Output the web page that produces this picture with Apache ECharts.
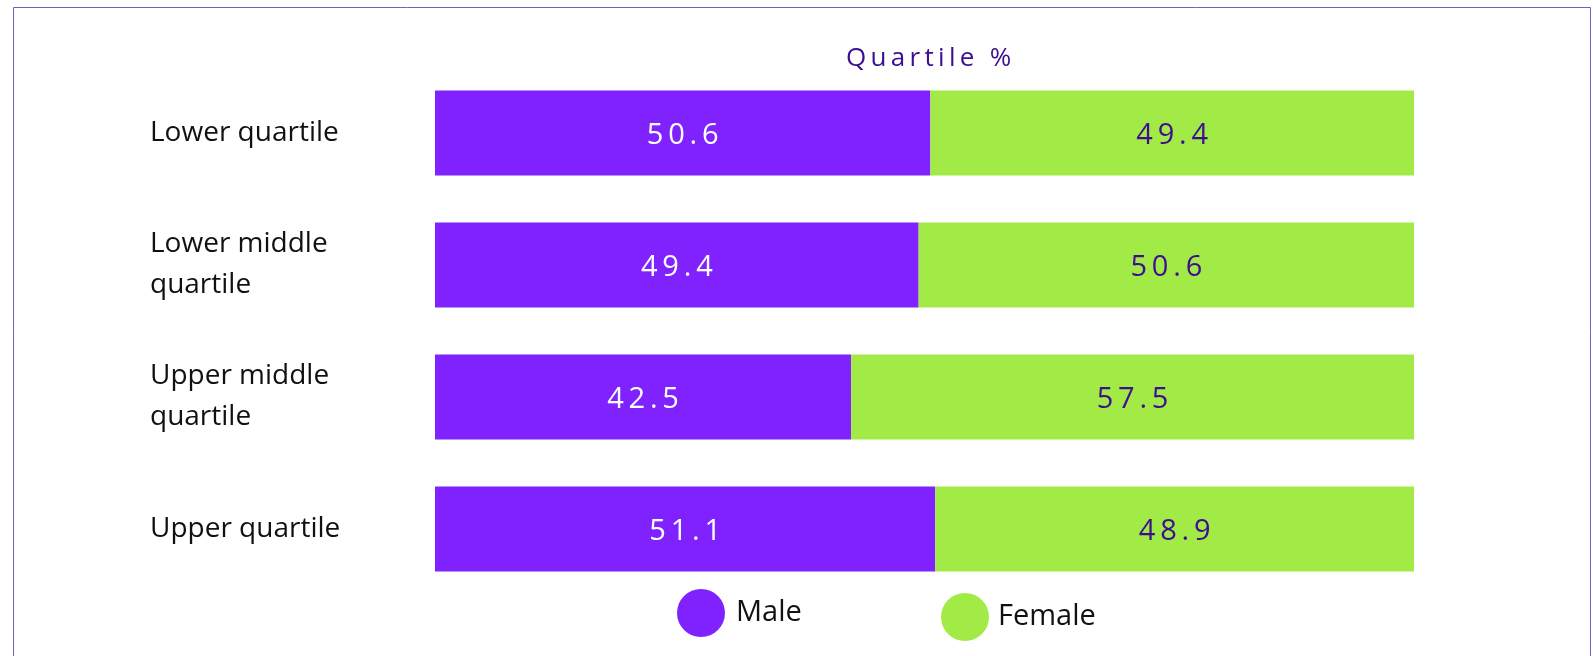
<!DOCTYPE html>
<html>
<head>
<meta charset="utf-8">
<script src="https://cdn.jsdelivr.net/npm/echarts@6/dist/echarts.min.js"></script>
<style>
html,body{margin:0;padding:0;background:#fff;}
#chart{width:1593px;height:656px;}
</style>
</head>
<body>
<div id="chart"></div>
<script>
const categories = ['Lower quartile', 'Lower middle\nquartile', 'Upper middle\nquartile', 'Upper quartile'];
const maleValues = [50.6, 49.4, 42.5, 51.1];
const femaleValues = [49.4, 50.6, 57.5, 48.9];
const seriesNames = ['Male', 'Female'];
const titleText = 'Quartile %';

const spaced = s => String(s).split('').join('\u2009');
const chart = echarts.init(document.getElementById('chart'));
const FONT = '"Open Sans", Lato, sans-serif';

chart.setOption({
  animation: false,
  backgroundColor: '#ffffff',
  title: {
    text: spaced(titleText),
    left: 846,
    top: 46,
    padding: 0,
    textStyle: { color: '#3d0f8f', fontSize: 26, fontWeight: 'normal', fontFamily: FONT }
  },
  graphic: [{
    type: 'rect',
    shape: { x: 13.5, y: 7.5, width: 1577, height: 700 },
    style: { fill: 'none', stroke: '#7a5cc0', lineWidth: 1 },
    silent: true
  }],
  legend: [{
    data: [seriesNames[0]],
    left: 677, top: 589, padding: 0,
    icon: 'circle', itemWidth: 48, itemHeight: 48,
    textStyle: { color: '#111', fontSize: 29, fontFamily: FONT, padding: [0, 0, 0, 6] }
  }, {
    data: [seriesNames[1]],
    left: 941, top: 593, padding: 0,
    icon: 'circle', itemWidth: 48, itemHeight: 48,
    textStyle: { color: '#111', fontSize: 29, fontFamily: FONT, padding: [0, 0, 0, 4] }
  }],
  grid: { left: 435, right: 179, top: 67, bottom: 61, containLabel: false },
  xAxis: {
    type: 'value', min: 0, max: 100, show: false
  },
  yAxis: {
    type: 'category', data: categories, inverse: true,
    axisLine: { show: false }, axisTick: { show: false }, splitLine: { show: false },
    axisLabel: {
      align: 'left', margin: 285, color: '#111', fontSize: 28, lineHeight: 41, fontFamily: FONT,
      padding: [0, 0, 10, 0]
    }
  },
  series: [{
    name: seriesNames[0], type: 'bar', stack: 'total', data: maleValues, barWidth: 85,
    itemStyle: { color: '#7f22fd' },
    label: {
      show: true, position: 'inside', color: '#ffffff', fontSize: 29, fontFamily: FONT,
      offset: [0, 3], formatter: p => spaced(p.value)
    }
  }, {
    name: seriesNames[1], type: 'bar', stack: 'total', data: femaleValues, barWidth: 85,
    itemStyle: { color: '#a2eb47' },
    label: {
      show: true, position: 'inside', color: '#3d0f8f', fontSize: 29, fontFamily: FONT,
      offset: [0, 3], formatter: p => spaced(p.value)
    }
  }]
});
</script>
</body>
</html>
